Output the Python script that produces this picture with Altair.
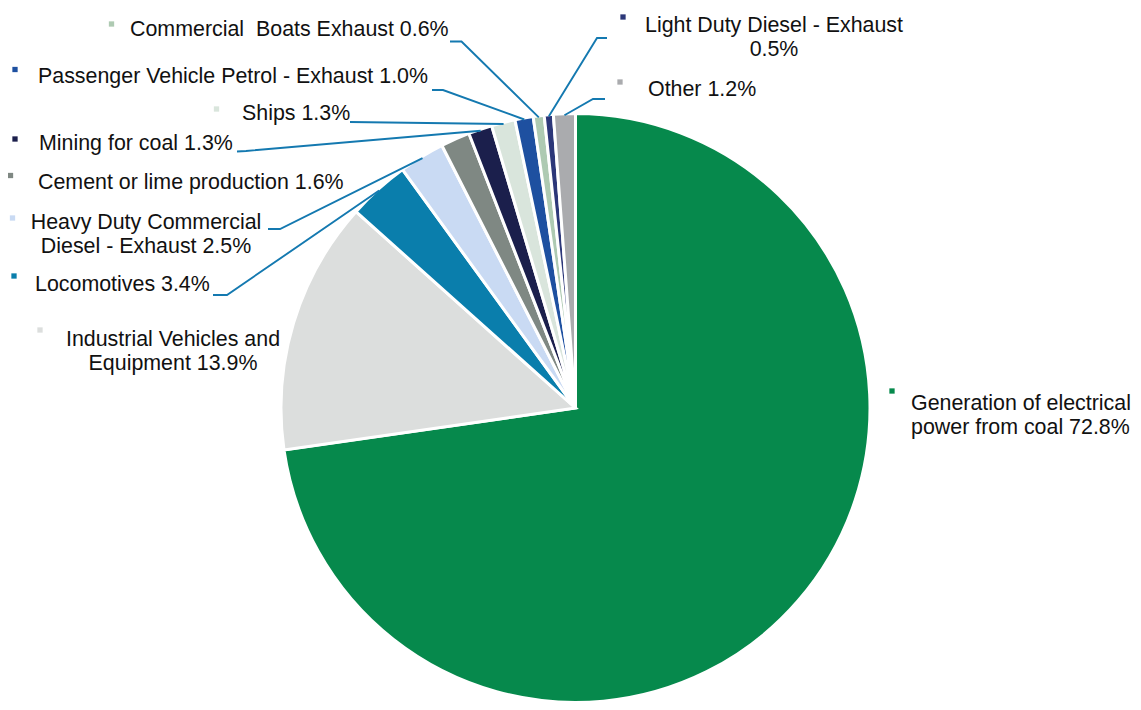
import math
import altair as alt
import pandas as pd

# ---------------- data ----------------
categories = [
    "Generation of electrical power from coal",
    "Industrial Vehicles and Equipment",
    "Locomotives",
    "Heavy Duty Commercial Diesel - Exhaust",
    "Cement or lime production",
    "Mining for coal",
    "Ships",
    "Passenger Vehicle Petrol - Exhaust",
    "Commercial Boats Exhaust",
    "Light Duty Diesel - Exhaust",
    "Other",
]
values = [72.8, 13.9, 3.4, 2.5, 1.6, 1.3, 1.3, 1.0, 0.6, 0.5, 1.2]
# label text lines (value appended to last line)
label_lines = [
    ["Generation of electrical", "power from coal"],
    ["Industrial Vehicles and", "Equipment\u00a0"],
    ["Locomotives"],
    ["Heavy Duty Commercial", "Diesel - Exhaust"],
    ["Cement or lime production"],
    ["Mining for coal"],
    ["Ships"],
    ["Passenger Vehicle Petrol - Exhaust"],
    ["Commercial\u00a0 Boats Exhaust"],
    ["Light Duty Diesel - Exhaust", ""],
    ["Other"],
]
colors = [
    "#06894C", "#DCDEDD", "#0A7EAC", "#C9DAF3", "#7F8883", "#1B1F4C",
    "#D9E5DC", "#1E50A0", "#AECAB2", "#2C3779", "#AAABAE",
]

# ---------------- layout (page pixels) ----------------
OFF = 8
W, H = 1125, 694
CX, CY, R = 575.5 - OFF, 408 - OFF, 293
LINE_COLOR = "#1479B0"
FONT = "Liberation Sans"
FS = 21.4

# per category: text anchor (x, first baseline y), align, marker (x, y), leader start points
layout = {
    "Generation of electrical power from coal": dict(t=(911, 410), a="left", m=(892, 391), lead=[]),
    "Industrial Vehicles and Equipment": dict(t=(173, 346), a="center", m=(40, 330), lead=[]),
    "Locomotives": dict(t=(35, 291), a="left", m=(14, 276), lead=[(213, 295), (227, 295)]),
    "Heavy Duty Commercial Diesel - Exhaust": dict(t=(146, 229), a="center", m=(12.5, 218), lead=[(268, 229), (280, 229)]),
    "Cement or lime production": dict(t=(38, 189), a="left", m=(10.5, 175.5), lead=[]),
    "Mining for coal": dict(t=(39, 150), a="left", m=(15, 139), lead=[(237, 151.5), (246, 151)]),
    "Ships": dict(t=(242, 120), a="left", m=(216.5, 109), lead=[(350, 122)]),
    "Passenger Vehicle Petrol - Exhaust": dict(t=(38, 83), a="left", m=(15, 69.5), lead=[(432, 90), (443, 90)]),
    "Commercial Boats Exhaust": dict(t=(130, 36), a="left", m=(111.5, 24), lead=[(450, 41.5), (461.5, 41.5)]),
    "Light Duty Diesel - Exhaust": dict(t=(774, 32), a="center", m=(623, 17), lead=[(607, 38), (597, 38)]),
    "Other": dict(t=(648, 96), a="left", m=(620, 82), lead=[(605, 99), (593, 99)]),
}

# ---------------- tables ----------------
pie_df = pd.DataFrame({"category": categories, "value": values, "order": list(range(len(categories)))})

total = sum(values)
text_rows, marker_rows, line_rows = [], [], []
cum = 0.0
for cat, v, lines in zip(categories, values, label_lines):
    mid = (cum + v / 2) / total * 2 * math.pi
    cum += v
    lay = layout[cat]
    ls = list(lines)
    last = ls[-1]
    if last and not last.endswith((" ", "\u00a0")):
        last += " "
    ls[-1] = last + f"{v:.1f}%"
    text_rows.append(dict(category=cat, label="\n".join(ls), tx=lay["t"][0] - OFF, ty=lay["t"][1] - OFF, align=lay["a"]))
    marker_rows.append(dict(category=cat, mx=lay["m"][0] - OFF, my=lay["m"][1] - OFF))
    if lay["lead"]:
        pts = [(x - OFF, y - OFF) for x, y in lay["lead"]]
        pts.append((CX + R * math.sin(mid), CY - R * math.cos(mid)))
        for i, (x, y) in enumerate(pts):
            line_rows.append(dict(category=cat, seq=i, lx=x, ly=y))

text_df = pd.DataFrame(text_rows)
marker_df = pd.DataFrame(marker_rows)
line_df = pd.DataFrame(line_rows)

color_scale = alt.Scale(domain=categories, range=colors)

pie = alt.Chart(pie_df).mark_arc(radius=R + 1.5, stroke="white", strokeWidth=3).encode(
    theta=alt.Theta("value:Q", stack=True),
    order=alt.Order("order:Q"),
    color=alt.Color("category:N", scale=color_scale, legend=None),
    x=alt.value(CX),
    y=alt.value(CY),
)

leaders = alt.Chart(line_df).mark_line(color=LINE_COLOR, strokeWidth=1.9).encode(
    x=alt.X("lx:Q", scale=None, axis=None),
    y=alt.Y("ly:Q", scale=None, axis=None),
    detail="category:N",
    order="seq:Q",
)

markers = alt.Chart(marker_df).mark_square(size=28, opacity=1).encode(
    x=alt.X("mx:Q", scale=None, axis=None),
    y=alt.Y("my:Q", scale=None, axis=None),
    color=alt.Color("category:N", scale=color_scale, legend=None),
)

def text_layer(align):
    return alt.Chart(text_df).transform_filter(alt.datum.align == align).mark_text(
        align=align, baseline="alphabetic", font=FONT, fontSize=FS, color="#111111",
        lineBreak="\n", lineHeight=24,
    ).encode(
        x=alt.X("tx:Q", scale=None, axis=None),
        y=alt.Y("ty:Q", scale=None, axis=None),
        text="label:N",
    )

chart = alt.layer(pie, leaders, markers, text_layer("left"), text_layer("center")).properties(
    width=W, height=H, padding=0, autosize="none"
).configure_view(stroke=None)

chart.save("out.html", embed_options={"renderer": "svg", "actions": False})
